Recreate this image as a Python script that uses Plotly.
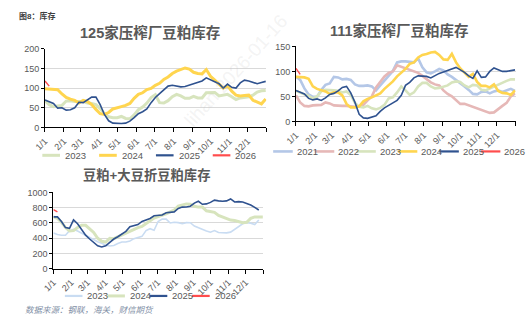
import plotly.graph_objects as go

W, H = 532, 331

# ---------------- data ----------------
month_days = [0, 31, 59, 90, 120, 151, 181, 212, 243, 273, 304, 334, 365]
month_labels = ["1/1", "2/1", "3/1", "4/1", "5/1", "6/1", "7/1", "8/1", "9/1", "10/1", "11/1", "12/1", ""]

# 125家压榨厂豆粕库存 (weekly)
c1_2023 = [68, 58, 53, 55, 56, 67, 68, 66, 66, 66, 62, 61, 58, 48, 35, 27, 25, 25, 28, 23,
           22, 32, 45, 52, 62, 76, 83, 63, 62, 68, 78, 84, 80, 74, 74, 79, 75, 75, 88, 89,
           89, 80, 82, 84, 78, 71, 75, 76, 78, 82, 90, 93, 94]
c1_2024 = [98, 97, 97, 96, 85, 76, 72, 69, 62, 69, 66, 58, 46, 35, 33, 38, 47, 51, 53, 56,
           61, 74, 84, 88, 96, 99, 107, 112, 122, 128, 137, 143, 148, 151, 148, 140, 137, 136, 147, 130,
           120, 110, 100, 106, 92, 82, 80, 81, 82, 69, 65, 60, 72]
c1_2025 = [70, 65, 61, 49, 50, 44, 45, 50, 64, 63, 70, 77, 77, 58, 33, 17, 11, 10, 10, 11,
           16, 25, 35, 40, 47, 63, 76, 86, 95, 105, 107, 105, 103, 104, 107, 110, 114, 118, 126, 121,
           116, 111, 100, 110, 102, 100, 113, 120, 118, 114, 111, 114, 117]
c1_2026 = [118, 105]

# 111家压榨厂豆粕库存 (weekly)
c2_2021 = [90, 83, 66, 54, 49, 49, 63, 73, 76, 89, 88, 84, 85, 83, 74, 71, 71, 72, 70, 62,
           72, 82, 92, 101, 118, 120, 120, 119, 118, 126, 108, 98, 96, 100, 105, 102, 94, 89, 83, 76,
           70, 63, 55, 54, 59, 60, 56, 60, 62, 59, 62, 65, 61]
c2_2022 = [52, 38, 31, 30, 32, 33, 33, 38, 36, 32, 31, 31, 31, 30, 29, 30, 33, 42, 50, 68,
           78, 90, 97, 100, 112, 109, 107, 103, 100, 97, 91, 85, 78, 74, 72, 62, 55, 50, 42, 35,
           35, 32, 30, 26, 23, 20, 17, 18, 25, 31, 37, 50, 56]
c2_2023 = [61, 57, 54, 51, 46, 50, 60, 63, 63, 62, 61, 58, 60, 53, 37, 29, 28, 31, 26, 24,
           27, 33, 46, 48, 58, 70, 62, 53, 58, 70, 77, 77, 70, 66, 67, 69, 72, 78, 80, 79,
           72, 68, 73, 72, 63, 62, 66, 70, 74, 78, 81, 84, 84]
c2_2024 = [89, 88, 88, 85, 70, 65, 63, 60, 55, 58, 58, 52, 35, 28, 28, 30, 40, 45, 48, 52,
           56, 65, 72, 80, 90, 97, 105, 115, 118, 128, 133, 135, 138, 139, 133, 124, 123, 135, 118, 106,
           97, 89, 95, 79, 71, 71, 68, 74, 61, 57, 56, 53, 62]
c2_2025 = [62, 59, 55, 46, 43, 45, 42, 47, 54, 56, 61, 68, 70, 57, 38, 14, 7, 6, 8, 11,
           20, 27, 32, 37, 42, 52, 72, 78, 87, 91, 91, 90, 87, 92, 96, 99, 102, 106, 108, 103,
           98, 91, 86, 101, 88, 89, 100, 107, 104, 100, 100, 101, 103]
c2_2026 = [106, 94]

# 豆粕+大豆折豆粕库存 (weekly)
c3_2023 = [470, 448, 440, 440, 500, 518, 495, 465, 440, 410, 380, 355, 335, 310, 298, 305, 330, 350, 350, 365,
           395, 410, 425, 500, 525, 505, 620, 650, 650, 600, 610, 605, 590, 605, 604, 560, 535, 515, 495, 480,
           500, 475, 468, 470, 480, 515, 550, 590, 604, 598, 580, 640]
c3_2024 = [680, 660, 610, 540, 495, 500, 540, 570, 570, 520, 477, 400, 360, 350, 400, 395, 420, 450, 470, 500,
           520, 540, 555, 590, 625, 665, 685, 700, 720, 745, 770, 820, 840, 850, 845, 820, 808, 808, 760, 745,
           740, 700, 680, 650, 638, 632, 615, 604, 610, 660, 680, 680, 680]
c3_2025 = [680, 680, 620, 540, 530, 640, 590, 510, 440, 390, 345, 300, 285, 300, 345, 390, 420, 450, 490, 550,
           560, 580, 620, 635, 660, 695, 705, 705, 735, 740, 745, 790, 808, 810, 820, 860, 885, 845, 850, 870,
           900, 890, 885, 890, 915, 875, 880, 875, 860, 835, 805, 770]
c3_2026 = [775, 745]

# ---------------- styles ----------------
C_2021 = "#b4c7e7"
C_2022 = "#e6b8b7"
C_2023 = "#d7e4bd"
C_2023b = "#c9dcf2"
C_2024 = "#ffd54f"
C_2025 = "#2f528f"
C_2026 = "#ff4d4d"

FONT = "Liberation Sans, Noto Sans CJK SC, sans-serif"
GRAY = "#595959"

charts = [
    dict(ax="", title="125家压榨厂豆粕库存", tx=141.5, ty=28, tsize=14.5,
         x=(34.7, 260.7), y=(45, 126.3), yr=(0, 200), dt=50,
         series=[("2023", c1_2023, C_2023, 3), ("2024", c1_2024, C_2024, 3),
                 ("2025", c1_2025, C_2025, 1.6), ("2026", c1_2026, C_2026, 1.4)],
         leg=dict(x0=32, y=155, step=58, sw=18, gap=3)),
    dict(ax="2", title="111家压榨厂豆粕库存", tx=397, ty=26.7, tsize=14.5,
         x=(291, 515.3), y=(42.7, 120), yr=(0, 150), dt=50,
         series=[("2021", c2_2021, C_2021, 2.6), ("2022", c2_2022, C_2022, 2.6),
                 ("2023", c2_2023, C_2023, 2.6), ("2024", c2_2024, C_2024, 2.6),
                 ("2025", c2_2025, C_2025, 1.6), ("2026", c2_2026, C_2026, 1.4)],
         leg=dict(x0=267.7, y=151, step=42.4, sw=20, gap=2)),
    dict(ax="3", title="豆粕+大豆折豆粕库存", tx=138, ty=175, tsize=13.3,
         x=(43.3, 257.7), y=(193.3, 272), yr=(0, 1000), dt=200,
         series=[("2023", c3_2023, C_2023b, 1.6), ("2024", c3_2024, C_2023, 3),
                 ("2025", c3_2025, C_2025, 1.6), ("2026", c3_2026, C_2026, 1.4)],
         leg=dict(x0=55, y=300, step=43.3, sw=18, gap=3)),
]

fig = go.Figure()
layout_axes = {}
annotations = []
shapes = []

for ch in charts:
    a = ch["ax"]
    for name, vals, color, width in ch["series"]:
        days = [7 * i for i in range(len(vals))]
        fig.add_trace(go.Scatter(x=days, y=vals, mode="lines", name=name,
                                 xaxis="x" + a, yaxis="y" + a, showlegend=False,
                                 line=dict(color=color, width=width)))
    layout_axes["xaxis" + a] = dict(
        domain=[ch["x"][0] / W, ch["x"][1] / W], range=[0, 365], anchor="y" + a,
        tickmode="array", tickvals=month_days, ticktext=month_labels, tickangle=-45,
        ticks="outside", ticklen=4, tickcolor="#000", showline=True, linecolor="#000",
        linewidth=1, showgrid=False, zeroline=False,
        tickfont=dict(size=9, color=GRAY, family=FONT))
    layout_axes["yaxis" + a] = dict(
        domain=[1 - ch["y"][1] / H, 1 - ch["y"][0] / H], range=list(ch["yr"]), dtick=ch["dt"],
        anchor="x" + a, showgrid=True, gridcolor="#d9d9d9", gridwidth=1,
        showline=True, linecolor="#000", linewidth=1, ticks="outside", ticklen=3,
        tickcolor="#000", zeroline=False, tickfont=dict(size=9, color=GRAY, family=FONT))
    annotations.append(dict(xref="paper", yref="paper", x=ch["tx"] / W, y=1 - ch["ty"] / H,
                            text="<b>" + ch["title"] + "</b>", showarrow=False,
                            xanchor="center", yanchor="middle",
                            font=dict(size=ch["tsize"], color=GRAY, family=FONT)))
    lg = ch["leg"]
    for k, (name, vals, color, width) in enumerate(ch["series"]):
        xs = lg["x0"] + k * lg["step"]
        yy = 1 - lg["y"] / H
        shapes.append(dict(type="line", xref="paper", yref="paper",
                           x0=xs / W, x1=(xs + lg["sw"]) / W, y0=yy, y1=yy,
                           line=dict(color=color, width=max(width, 2.2))))
        annotations.append(dict(xref="paper", yref="paper", x=(xs + lg["sw"] + lg["gap"]) / W, y=yy,
                                text=name, showarrow=False, xanchor="left", yanchor="middle",
                                font=dict(size=9.5, color=GRAY, family=FONT)))

annotations.append(dict(xref="paper", yref="paper", x=6 / W, y=1 - 11.7 / H,
                        text="<b>图8：库存</b>", showarrow=False, xanchor="left", yanchor="middle",
                        font=dict(size=8, color="#404040", family=FONT)))
annotations.append(dict(xref="paper", yref="paper", x=12 / W, y=1 - 315 / H,
                        text="<i>数据来源：钢联，海关，财信期货</i>", showarrow=False,
                        xanchor="left", yanchor="middle",
                        font=dict(size=8.5, color="#7f8fa6", family=FONT)))
annotations.append(dict(xref="paper", yref="paper", x=230 / W, y=1 - 68 / H,
                        text="lihan 2026-01-16", showarrow=False, textangle=-48,
                        xanchor="center", yanchor="middle",
                        font=dict(size=19, color="rgba(190,190,190,0.18)", family=FONT)))

fig.update_layout(
    width=W, height=H, margin=dict(l=0, r=0, t=0, b=0),
    paper_bgcolor="white", plot_bgcolor="white",
    font=dict(family=FONT, color=GRAY, size=9),
    showlegend=False, annotations=annotations, shapes=shapes,
    **layout_axes)

fig.write_html("out.html")
